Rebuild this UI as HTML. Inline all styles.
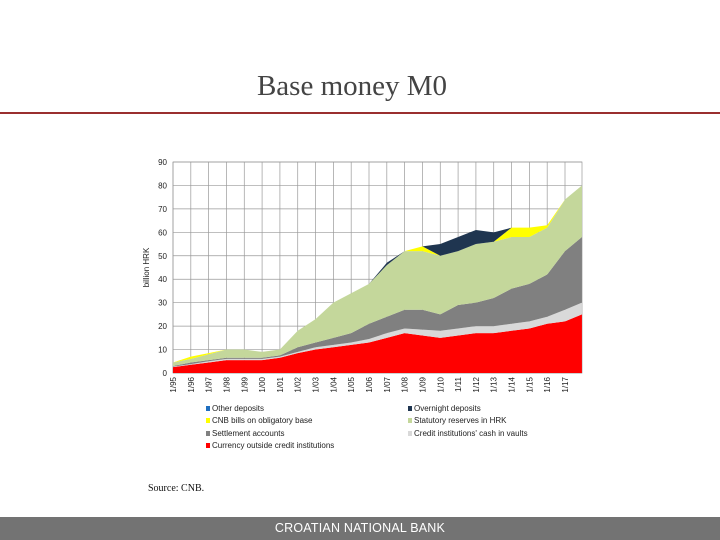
<!DOCTYPE html>
<html><head><meta charset="utf-8"><style>
body{margin:0;width:720px;height:540px;background:#fff;position:relative;overflow:hidden;font-family:"Liberation Sans",sans-serif}
.title{position:absolute;left:0;width:704px;top:70px;text-align:center;font-family:"Liberation Serif",serif;font-size:29px;color:#444}
.rule{position:absolute;left:0;top:112px;width:720px;height:2px;background:#9a2f2f}
.src{position:absolute;left:148px;top:483px;font-family:"Liberation Serif",serif;font-size:10px;color:#111}
.foot{position:absolute;left:0;top:517px;width:720px;height:23px;background:#737373;color:#fff;font-size:12.5px;text-align:center;line-height:23px;letter-spacing:0.2px}
svg{position:absolute;left:0;top:0}
</style></head><body>
<div class="title">Base money M0</div>
<div class="rule"></div>
<svg id="chart" width="720" height="540"></svg>
<div class="src">Source: CNB.</div>
<div class="foot">CROATIAN NATIONAL BANK</div>
<script>
const years=[1995,1996,1997,1998,1999,2000,2001,2002,2003,2004,2005,2006,2007,2008,2009,2010,2011,2012,2013,2014,2015,2016,2017,2017.95];
const currency=[2.5,3.5,4.5,5.5,5.5,5.5,6.5,8.5,10,11,12,13,15,17,16,15,16,17,17,18,19,21,22,25];
const vaults=[0.2,0.3,0.5,0.5,0.5,0.5,0.5,0.5,1,1,1,1.5,2,2,2.5,3,3,3,3,3,3,3,5,5];
const settlement=[0.3,0.7,0.5,0.5,0.5,0.5,0.5,2,2,3,4,6.5,7,8,8.5,7,10,10,12,15,16,18,25,28];
const statutory=[1.5,1.5,2.5,3.5,3.5,2.5,2.5,7,10,15,17,17,22,25,25,25,23,25,24,22,20,20,22,22];
const bills=[0,1,0.5,0,0,0,0,0,0,0,0,0,0,0,2,0,0,0,0,4,4,1,0,0];
const overnight=[0,0,0,0,0,0,0,0,0,0,0,0,1,0,0,5,6,6,4,0,0,0,0,0];
const other=[0,0,0,0,0,0,0,0,0,0,0,0,0,0,0,0,0,0,0,0,0,0,0,0];
const yTicks=[0,10,20,30,40,50,60,70,80,90];
const xLabels=["1/95","1/96","1/97","1/98","1/99","1/00","1/01","1/02","1/03","1/04","1/05","1/06","1/07","1/08","1/09","1/10","1/11","1/12","1/13","1/14","1/15","1/16","1/17"];
const seriesNames=["Currency outside credit institutions","Credit institutions' cash in vaults","Settlement accounts","Statutory reserves in HRK","CNB bills on obligatory base","Overnight deposits","Other deposits"];
const colors=["#ff0000","#d9d9d9","#808080","#c4d79b","#ffff00","#1f3550","#1f6fc0"];
const L=173,R=582,T=162,B=373;
const X=v=>L+(v-1995)*(565-173)/22;
const Y=v=>B-(v/90)*(B-T);
const svg=document.getElementById('chart');const NS="http://www.w3.org/2000/svg";
function mk(t,a,p){const e=document.createElementNS(NS,t);for(const k in a)e.setAttribute(k,a[k]);(p||svg).appendChild(e);return e;}
mk('rect',{x:L,y:T,width:R-L,height:B-T,fill:'#fff',stroke:'#999','stroke-width':0.7});
yTicks.forEach(t=>{const g=mk('line',{x1:L,x2:R,y1:Y(t),y2:Y(t),stroke:'#999','stroke-width':0.7});

const tx=mk('text',{x:L-6,y:Y(t)+3,'font-size':8,'text-anchor':'end',fill:'#222'});tx.textContent=t;
});
xLabels.forEach((s,i)=>{const x=X(1995+i);mk('line',{x1:x,x2:x,y1:T,y2:B,stroke:'#999','stroke-width':0.7});
const tx=mk('text',{x:0,y:0,'font-size':8,'text-anchor':'end',fill:'#222',transform:`translate(${x+3},${B+4}) rotate(-90)`});tx.textContent=s;
});
const layers=[currency,vaults,settlement,statutory,bills,overnight,other];
let base=years.map(()=>0);
layers.forEach((arr,k)=>{const top=base.map((b,i)=>b+arr[i]);
let d='M'+years.map((y,i)=>X(y)+','+Y(top[i])).join(' L');
for(let i=years.length-1;i>=0;i--)d+=' L'+X(years[i])+','+Y(base[i]);d+='Z';
const p=mk('path',{d:d,fill:colors[k]});
base=top;});
const yt=mk('text',{x:0,y:0,'font-size':8,'text-anchor':'middle',fill:'#222',transform:`translate(${149},${Y(45)}) rotate(-90)`});yt.textContent='billion HRK';

const legPos=[[206,448],[408,436],[206,436],[408,423],[206,423],[408,411],[206,411]];
seriesNames.forEach((n,k)=>{const [x,y]=legPos[k];
const r=mk('rect',{x:x,y:y-5,width:4,height:5,fill:colors[k]});

const t=mk('text',{x:x+6,y:y,'font-size':8,fill:'#222'});t.textContent=n;
});
</script>
</body></html>
